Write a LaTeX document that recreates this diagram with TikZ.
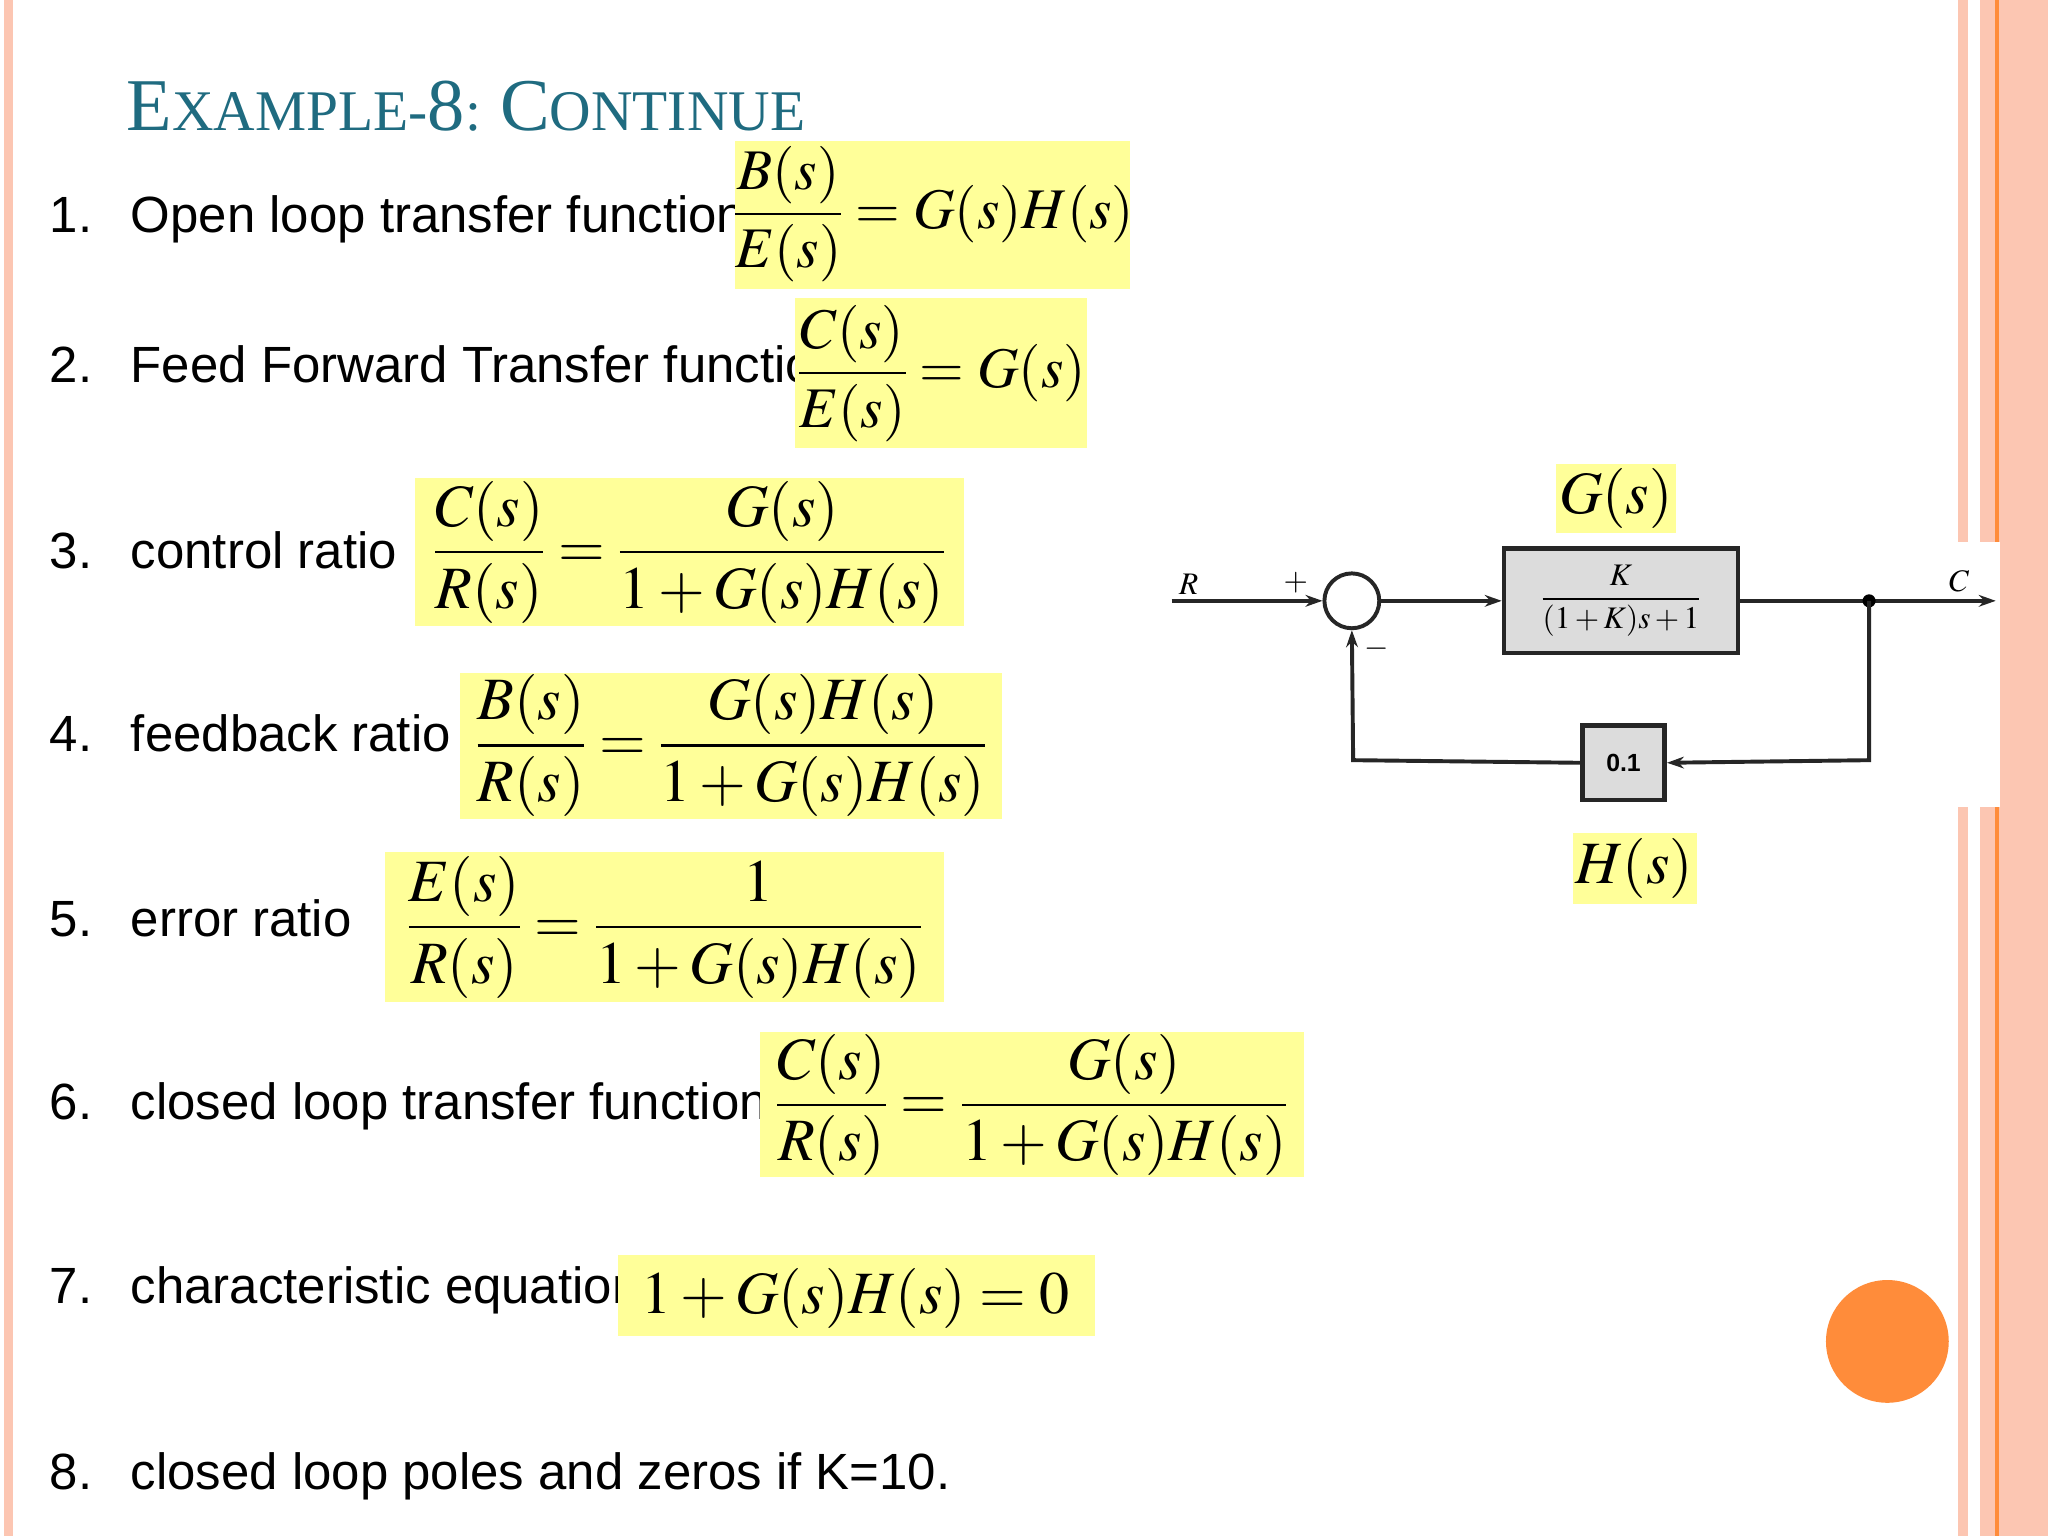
\documentclass[tikz,border=0pt]{standalone}
\usepackage{mathptmx}
\usepackage{fontspec}
\setmainfont{Liberation Sans}
\newfontfamily\titlefont{Liberation Serif}
\usetikzlibrary{arrows.meta}
\definecolor{hl}{HTML}{FFFF99}
\definecolor{ttl}{HTML}{1F6B80}
\definecolor{pk}{HTML}{FCC6B2}
\definecolor{org}{HTML}{FF8C3A}
\definecolor{blk}{HTML}{DCDCDC}
\newcommand{\bigc}[1]{{\fontsize{57}{60}\selectfont #1}}
\tikzset{
 item/.style={anchor=base west,font=\fontsize{39}{41}\selectfont,inner sep=0},
 hlbox/.style={fill=hl,draw=none},
 eq/.style={inner sep=0,font=\fontsize{46}{50}\selectfont},
 wire/.style={line width=3pt,draw=black!85},
 arr/.style={wire,-{Stealth[length=13pt,width=9pt]}},
 gblock/.style={draw=black!85,line width=3.5pt,fill=blk}
}
\begin{document}
\begin{tikzpicture}[x=1pt,y=-1pt]
\useasboundingbox (0,0) rectangle (1568,1176);
\fill[white] (0,0) rectangle (1568,1176);
% borders
\fill[pk] (3,0) rectangle (10,1176);
\fill[pk] (1499,0) rectangle (1507,1176);
\fill[pk] (1516,0) rectangle (1568,1176);
\draw[org,line width=3pt] (1529,0) -- (1529,1176);
% title
\node[anchor=base west,inner sep=0,text=ttl,font=\titlefont\fontsize{44}{48}\selectfont] (title) at (97,100) {\bigc{E}XAMPLE-\bigc{8}: \bigc{C}ONTINUE};
% items
\node[item] (n1) at (38,178) {1.}; \node[item] (t1) at (100,178) {Open loop transfer function};
\node[item] (n2) at (38,293) {2.}; \node[item] (t2) at (100,293) {Feed Forward Transfer function};
\node[item] (n3) at (38,435) {3.}; \node[item] (t3) at (100,435) {control ratio};
\node[item] (n4) at (38,575) {4.}; \node[item] (t4) at (100,575) {feedback ratio};
\node[item] (n5) at (38,717) {5.}; \node[item] (t5) at (100,717) {error ratio};
\node[item] (n6) at (38,857) {6.}; \node[item] (t6) at (100,857) {closed loop transfer function};
\node[item] (n7) at (38,998) {7.}; \node[item] (t7) at (100,998) {characteristic equation};
\node[item] (n8) at (38,1140) {8.}; \node[item] (t8) at (100,1140) {closed loop poles and zeros if K=10.};
% equation boxes
\fill[hlbox] (563,108) rectangle (865,221);
\node[eq,font=\fontsize{44}{48}\selectfont] (e1) at (715,164) {$\displaystyle\frac{B(s)}{E(s)}=G(s)H(s)$};
\fill[hlbox] (609,228) rectangle (832,343);
\node[eq,font=\fontsize{44}{48}\selectfont] (e2) at (721,286) {$\displaystyle\frac{C(s)}{E(s)}=G(s)$};
\fill[hlbox] (318,366) rectangle (738,479);
\node[eq] (e3) at (528,423) {$\displaystyle\frac{C(s)}{R(s)}=\frac{G(s)}{1+G(s)H(s)}$};
\fill[hlbox] (352,515) rectangle (767,627);
\node[eq] (e4) at (560,571) {$\displaystyle\frac{B(s)}{R(s)}=\frac{G(s)H(s)}{1+G(s)H(s)}$};
\fill[hlbox] (295,652) rectangle (723,767);
\node[eq] (e5) at (509,710) {$\displaystyle\frac{E(s)}{R(s)}=\frac{1}{1+G(s)H(s)}$};
\fill[hlbox] (582,790) rectangle (998,901);
\node[eq] (e6) at (790,846) {$\displaystyle\frac{C(s)}{R(s)}=\frac{G(s)}{1+G(s)H(s)}$};
\fill[hlbox] (473,961) rectangle (838,1023);
\node[eq] (e7) at (655,994) {$1+G(s)H(s)=0$};
% diagram
\fill[white] (890,415) rectangle (1531,618);
\fill[hlbox] (1191,355) rectangle (1283,408);
\node[eq] (gl) at (1237,382) {$G(s)$};
\fill[hlbox] (1204,638) rectangle (1299,692);
\node[eq] (hl) at (1251,665) {$H(s)$};
\node[draw=black!85,line width=3pt,circle,minimum size=42pt,inner sep=0] (sum) at (1035,460) {};
\node[gblock,minimum width=179pt,minimum height=80pt,font=\fontsize{24}{26}\selectfont\bfseries\boldmath] (G) at (1241,460) {$\displaystyle\frac{K}{(1+K)s+1}$};
\node[gblock,minimum width=63pt,minimum height=57pt,font=\fontsize{19}{20}\selectfont\bfseries] (H) at (1243,584) {0.1};
\coordinate (rin) at (897,460);
\coordinate (cout) at (1528,460);
\coordinate (jn) at (1431,460);
\coordinate (jb) at (1431,582);
\coordinate (lb) at (1036,582);
\draw[arr] (rin) -- (sum.west);
\draw[arr] (sum.east) -- (G.west);
\draw[arr] (G.east) -- (cout);
\fill (jn) circle (5pt);
\draw[arr] (jn) -- (jb) -- (H.east);
\draw[arr] (H.west) -- (lb) -- (sum.south);
\node[font=\fontsize{24}{26}\selectfont\boldmath] (Rl) at (910,447) {$R$};
\node[font=\fontsize{24}{26}\selectfont\boldmath] (Cl) at (1500,445) {$C$};
\node[font=\fontsize{24}{26}\selectfont] (pl) at (992,446) {$+$};
\node[font=\fontsize{24}{26}\selectfont] (mi) at (1054,497) {$-$};
% orange dot
\fill[org] (1445,1027) circle (47);
\end{tikzpicture}
\end{document}
